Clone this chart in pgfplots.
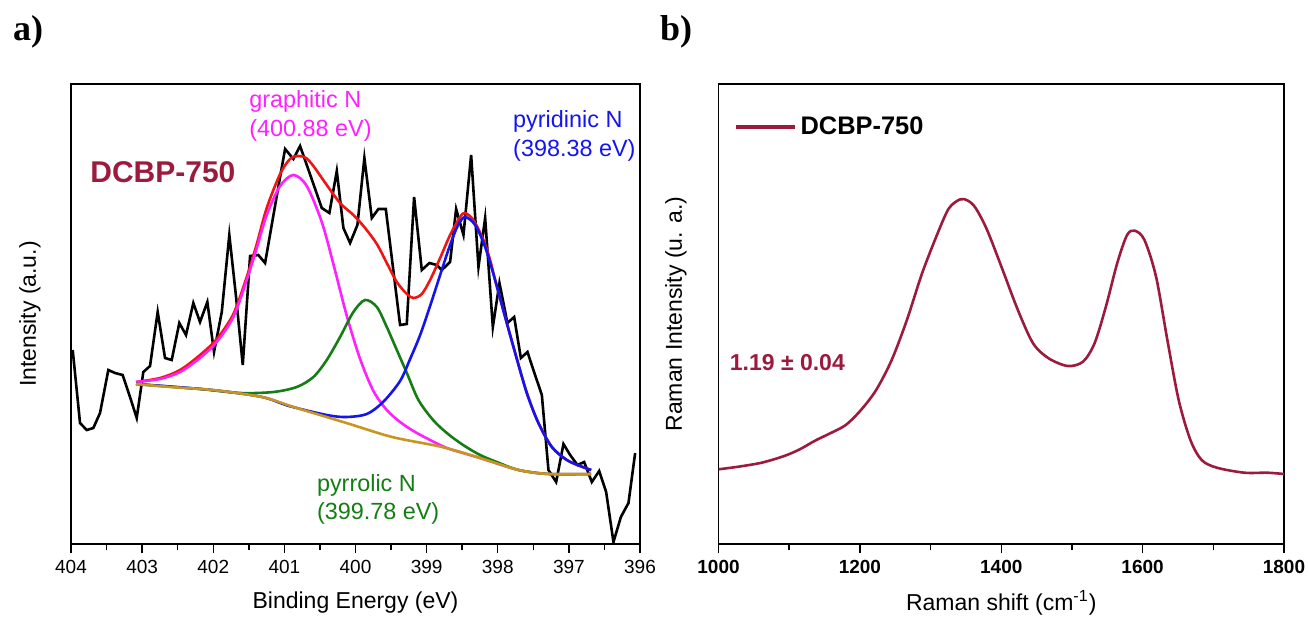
\documentclass[border=0pt]{standalone}
\usepackage{fontspec}
\setmainfont{Liberation Sans}
\newfontfamily\timesfont{Liberation Serif}
\usepackage{pgfplots}
\pgfplotsset{compat=1.18}
\definecolor{dred}{HTML}{9C1B3D}
\definecolor{cmag}{HTML}{FF20FF}
\definecolor{cblue}{HTML}{1414F0}
\definecolor{cgreen}{HTML}{147D14}
\definecolor{cred}{HTML}{F01414}
\definecolor{cgold}{HTML}{C8961E}
\pgfplotsset{
  panel/.style={
    anchor=south west, scale only axis, height=230pt,
    ymin=0, ymax=460, ytick=\empty,
    minor x tick num=1, tick align=outside, xtick pos=bottom,
    major tick length=4.5pt, minor tick length=3pt,
    axis line style={line width=0.75pt},
    every tick/.style={black, line width=0.7pt},
    /pgf/number format/assume math mode=true,
    /pgf/number format/1000 sep={},
  }
}
\begin{document}
\begin{tikzpicture}
\useasboundingbox (0,0) rectangle (654.5pt,309pt);
% ---------------- panel a ----------------
\begin{axis}[panel, at={(35.5pt,37pt)}, width=284.5pt,
  xmin=396, xmax=404, x dir=reverse, xtick={396,397,...,404},
  xticklabel style={font=\fontsize{9.5}{11}\selectfont}]
\addplot[black, line width=1.3pt] coordinates {
(403.976,194) (403.873,121) (403.779,114) (403.686,116) (403.592,131) (403.475,174) (403.381,171) (403.273,169) (403.170,147) (403.076,126) (402.983,172) (402.889,178) (402.781,232) (402.678,186) (402.584,184) (402.477,221) (402.383,209) (402.280,241) (402.186,222) (402.083,242) (401.989,192) (401.880,232) (401.774,309) (401.679,247) (401.585,179) (401.482,288) (401.366,289) (401.271,281) (401.173,321) (401.075,361) (400.990,395) (400.873,385) (400.779,398) (400.680,378) (400.582,358) (400.474,336) (400.367,331) (400.263,373) (400.170,316) (400.076,301) (399.973,319) (399.875,386) (399.771,326) (399.678,335) (399.574,335) (399.472,276) (399.373,219) (399.279,220) (399.176,347) (399.068,274) (398.961,281) (398.857,279) (398.786,274) (398.670,282) (398.585,335) (398.482,309) (398.374,389) (398.271,277) (398.177,326) (398.069,217) (397.976,261) (397.864,221) (397.769,227) (397.675,186) (397.582,192) (397.489,172) (397.380,149) (397.287,74) (397.179,62) (397.076,100) (396.982,89) (396.879,79) (396.785,82) (396.677,62) (396.574,73) (396.476,52) (396.373,2) (396.269,27) (396.162,41) (396.068,91)
};
\addplot[cred, line width=1.3pt, smooth] coordinates {
(403.086,162) (402.748,166) (402.467,174) (402.186,189) (401.951,205) (401.717,230) (401.529,267) (401.388,300) (401.248,336) (401.060,370) (400.920,385) (400.803,388) (400.695,386) (400.592,378) (400.404,359) (400.217,341) (400.030,329) (399.865,316) (399.700,300) (399.560,281) (399.419,262) (399.278,250) (399.186,246) (399.068,250) (398.951,264) (398.810,286) (398.670,309) (398.529,327) (398.459,331) (398.342,324) (398.201,304) (398.107,284) (398.037,264) (397.896,227) (397.755,191) (397.591,151) (397.428,121) (397.239,97) (397.028,84) (396.841,78) (396.686,74)
};
\addplot[cmag, line width=1.3pt, smooth] coordinates {
(403.086,162) (402.748,165) (402.467,172) (402.186,186) (401.951,202) (401.717,227) (401.529,264) (401.388,296) (401.248,329) (401.060,358) (400.873,369) (400.685,358) (400.474,322) (400.311,280) (400.122,228) (399.935,185) (399.748,153) (399.560,134) (399.373,122) (399.186,113) (398.951,104) (398.716,96) (398.487,91) (398.248,86) (397.706,74) (397.277,70) (396.686,70)
};
\addplot[cgreen, line width=1.3pt, smooth] coordinates {
(403.086,160) (402.186,155) (401.623,151) (401.155,152) (400.826,157) (400.592,167) (400.404,184) (400.217,207) (400.030,232) (399.865,244) (399.700,237) (399.560,217) (399.419,194) (399.278,171) (399.115,144) (398.909,124) (398.716,111) (398.487,99) (398.248,89) (398.013,82) (397.706,74) (397.277,70) (396.686,70)
};
\addplot[cblue, line width=1.3pt, smooth] coordinates {
(403.086,160) (402.017,154) (401.314,147) (400.934,138) (400.404,129) (400.132,127) (399.841,130) (399.612,142) (399.373,163) (399.232,185) (399.091,209) (398.951,238) (398.810,269) (398.670,299) (398.557,319) (398.459,327) (398.318,319) (398.177,297) (398.037,264) (397.896,227) (397.755,191) (397.591,151) (397.428,121) (397.239,97) (397.028,84) (396.841,78) (396.686,74)
};
\addplot[cgold, line width=1.3pt, smooth] coordinates {
(403.086,160) (402.608,157) (402.010,154) (401.314,147) (400.826,136) (400.127,121) (399.485,107) (398.782,97) (398.248,86) (397.706,74) (397.277,70) (396.686,70)
};
\end{axis}
% ---------------- panel b ----------------
\begin{axis}[panel, at={(359.25pt,37pt)}, width=282.75pt,
  xmin=1000, xmax=1800, xtick={1000,1200,...,1800},
  xticklabel style={font=\bfseries\fontsize{9.5}{11}\selectfont},
  legend style={at={(0.0274,0.9065)}, anchor=west, draw=none, fill=none,
    inner sep=0pt, font=\bfseries\fontsize{12.7}{15}\selectfont},
  legend cell align=left,
  legend image code/.code={\draw[dred, line width=1.6pt] (0pt,0pt) -- (29.5pt,0pt);}]
\addplot[dred, line width=1.3pt, smooth] coordinates {
(1000,74.7) (1028,77.3) (1061,81.3) (1093,88) (1115,94.7) (1136.5,103.3) (1158,110.7) (1180,119) (1201.5,134) (1223,154) (1245,184) (1266.5,224) (1288,270.7) (1310,310.7) (1326,335.7) (1342,344.7) (1353,343.3) (1364,335.7) (1380,314) (1402,274) (1423.5,234) (1445,200.7) (1467,185.7) (1494,178) (1515.6,182.3) (1532,200.7) (1548,237.3) (1564,280.7) (1578,309) (1589,313.3) (1602.6,304) (1619,267.3) (1635,204) (1651,144) (1667.6,104) (1683.5,84) (1705,76.3) (1744,71.3) (1776,71.3) (1800,70)
};
\addlegendentry{DCBP-750}
\end{axis}
% ---------------- texts ----------------
\node[font=\timesfont\bfseries\fontsize{18}{20}\selectfont] at (14pt,293pt) {a)};
\node[font=\timesfont\bfseries\fontsize{18}{20}\selectfont] at (338pt,293pt) {b)};
\node[font=\fontsize{11.5}{13}\selectfont] at (177.75pt,7.5pt) {Binding Energy (eV)};
\node[font=\fontsize{11.5}{13}\selectfont, rotate=90] at (15pt,152pt) {Intensity (a.u.)};
\node[font=\fontsize{11.5}{13}\selectfont] at (500.6pt,7.5pt) {Raman shift (cm\textsuperscript{-1})};
\node[font=\fontsize{11.5}{13}\selectfont, rotate=90] at (338pt,152pt) {Raman Intensity (u. a.)};
\node[anchor=west, inner sep=0pt, text=dred, font=\bfseries\fontsize{15}{17}\selectfont] at (45pt,223pt) {DCBP-750};
\node[anchor=west, inner sep=0pt, text=cmag, font=\fontsize{11.7}{13}\selectfont] at (124.5pt,258.2pt) {graphitic N};
\node[anchor=west, inner sep=0pt, text=cmag, font=\fontsize{11.7}{13}\selectfont] at (124.5pt,244pt) {(400.88 eV)};
\node[anchor=west, inner sep=0pt, text=cblue, font=\fontsize{11.7}{13}\selectfont] at (256.4pt,248.2pt) {pyridinic N};
\node[anchor=west, inner sep=0pt, text=cblue, font=\fontsize{11.7}{13}\selectfont] at (256.4pt,234pt) {(398.38 eV)};
\node[anchor=west, inner sep=0pt, text=cgreen, font=\fontsize{11.7}{13}\selectfont] at (158.3pt,66.5pt) {pyrrolic N};
\node[anchor=west, inner sep=0pt, text=cgreen, font=\fontsize{11.7}{13}\selectfont] at (158.3pt,52.3pt) {(399.78 eV)};
\node[anchor=west, inner sep=0pt, text=dred, font=\bfseries\fontsize{11.5}{13}\selectfont] at (364.75pt,127.5pt) {1.19 ± 0.04};
\end{tikzpicture}
\end{document}
